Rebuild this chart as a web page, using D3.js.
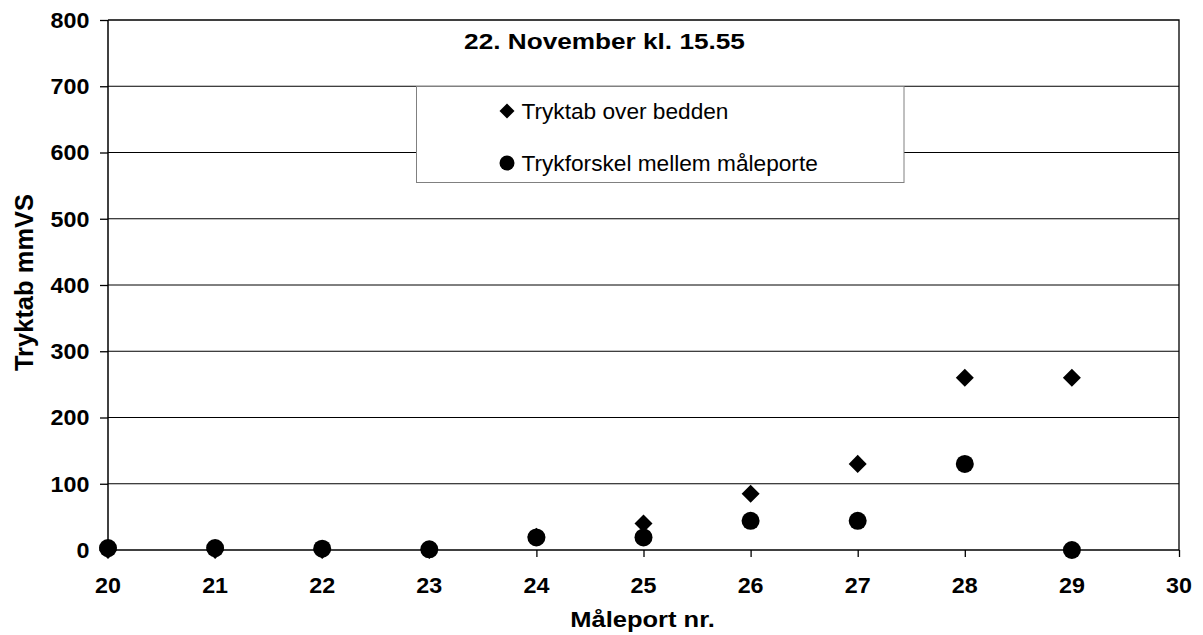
<!DOCTYPE html>
<html>
<head>
<meta charset="utf-8">
<script src="https://cdn.jsdelivr.net/npm/d3@7"></script>
<style>
  html, body { margin: 0; padding: 0; background: #fff; }
  svg { display: block; font-family: "Liberation Sans", Arial, sans-serif; }
</style>
</head>
<body>
<svg id="chart" width="1203" height="635"></svg>
<script>
// Measuring ports along the bed
const ports = [20, 21, 22, 23, 24, 25, 26, 27, 28, 29];
// Pressure loss over the bed (mmVS)
const tryktab = [0, 0, 0, 0, 20, 40, 85, 130, 260, 260];
// Pressure difference between measuring ports (mmVS)
const trykforskel = [3, 3, 2, 1, 19, 19, 44, 44, 130, 0];

const xTicks = [20, 21, 22, 23, 24, 25, 26, 27, 28, 29, 30];
const yTicks = [0, 100, 200, 300, 400, 500, 600, 700, 800];

const titleText = "22. November kl. 15.55";
const xTitle = "Måleport nr.";
const yTitle = "Tryktab mmVS";
const seriesNames = ["Tryktab over bedden", "Trykforskel mellem måleporte"];

const svg = d3.select("#chart");
const plot = { left: 108, right: 1179, top: 20, bottom: 550 };

const x = d3.scaleLinear().domain([20, 30]).range([plot.left, plot.right]);
const y = d3.scaleLinear().domain([0, 800]).range([plot.bottom, plot.top]);

// horizontal gridlines
svg.append("g")
  .selectAll("line")
  .data(yTicks.filter(d => d > 0 && d < 800))
  .join("line")
  .attr("x1", plot.left).attr("x2", plot.right)
  .attr("y1", d => y(d)).attr("y2", d => y(d))
  .attr("stroke", "#000").attr("stroke-width", 1);

// plot frame (top and right edges)
svg.append("path")
  .attr("d", `M${plot.left},${plot.top}H${plot.right}V${plot.bottom}`)
  .attr("fill", "none").attr("stroke", "#000").attr("stroke-width", 1.3);

// text helper with horizontal scaling
function label(parent, text, tx, ty, opts) {
  const g = parent.append("g")
    .attr("transform", `translate(${tx},${ty}) scale(${opts.sx || 1},1)`);
  g.append("text")
    .attr("text-anchor", opts.anchor || "start")
    .attr("font-size", opts.size)
    .attr("font-weight", opts.weight || "normal")
    .attr("fill", "#000")
    .text(text);
  return g;
}

// x axis
const xAxis = svg.append("g").attr("transform", `translate(0,${plot.bottom})`)
  .call(d3.axisBottom(x).tickValues(xTicks).tickSize(7).tickFormat(""));
xAxis.select(".domain").attr("stroke", "#000").attr("stroke-width", 1.5)
  .attr("d", `M${plot.left},0H${plot.right}`);
xAxis.selectAll(".tick line").attr("stroke", "#000").attr("stroke-width", 1.3);
xTicks.forEach(t => label(svg, String(t), x(t), 593, { size: 22, weight: "bold", anchor: "middle", sx: 1.06 }));

// y axis
const yAxis = svg.append("g").attr("transform", `translate(${plot.left},0)`)
  .call(d3.axisLeft(y).tickValues(yTicks).tickSize(8).tickFormat(""));
yAxis.select(".domain").attr("stroke", "#000").attr("stroke-width", 1.5)
  .attr("d", `M0,${plot.top}V${plot.bottom}`);
yAxis.selectAll(".tick line").attr("stroke", "#000").attr("stroke-width", 1.3);
yTicks.forEach(t => label(svg, String(t), 89.5, y(t) + 7.8, { size: 22, weight: "bold", anchor: "end", sx: 1.06 }));

// axis titles
label(svg, xTitle, 642.5, 626.5, { size: 22, weight: "bold", anchor: "middle", sx: 1.16 });
svg.append("text")
  .attr("transform", `translate(33,282.5) rotate(-90)`)
  .attr("text-anchor", "middle")
  .attr("font-size", 25.5).attr("font-weight", "bold")
  .text(yTitle);

// chart title
label(svg, titleText, 604.5, 49, { size: 22, weight: "bold", anchor: "middle", sx: 1.19 });

// legend
const legend = svg.append("g");
legend.append("rect")
  .attr("x", 416.5).attr("y", 86.5).attr("width", 487.5).attr("height", 96)
  .attr("fill", "#fff").attr("stroke", "#808080").attr("stroke-width", 1);
const diamond = d3.symbol().type(d3.symbolSquare);
legend.append("path")
  .attr("d", diamond.size(2 * 7.5 * 7.5)())
  .attr("transform", "translate(507,111) rotate(45)")
  .attr("fill", "#000");
legend.append("circle").attr("cx", 507).attr("cy", 163).attr("r", 7.5).attr("fill", "#000");
label(legend, seriesNames[0], 521.5, 119.3, { size: 22, sx: 1.03 });
label(legend, seriesNames[1], 521.5, 170.7, { size: 22, sx: 1.03 });

// data points: diamonds under circles
const pts1 = ports.map((p, i) => ({ p, v: tryktab[i] }));
const pts2 = ports.map((p, i) => ({ p, v: trykforskel[i] }));

svg.append("g").selectAll("path")
  .data(pts1)
  .join("path")
  .attr("d", diamond.size(2 * 9 * 9)())
  .attr("transform", d => `translate(${x(d.p)},${y(d.v)}) rotate(45)`)
  .attr("fill", "#000");

svg.append("g").selectAll("circle")
  .data(pts2)
  .join("circle")
  .attr("cx", d => x(d.p)).attr("cy", d => y(d.v))
  .attr("r", 9).attr("fill", "#000");
</script>
</body>
</html>
